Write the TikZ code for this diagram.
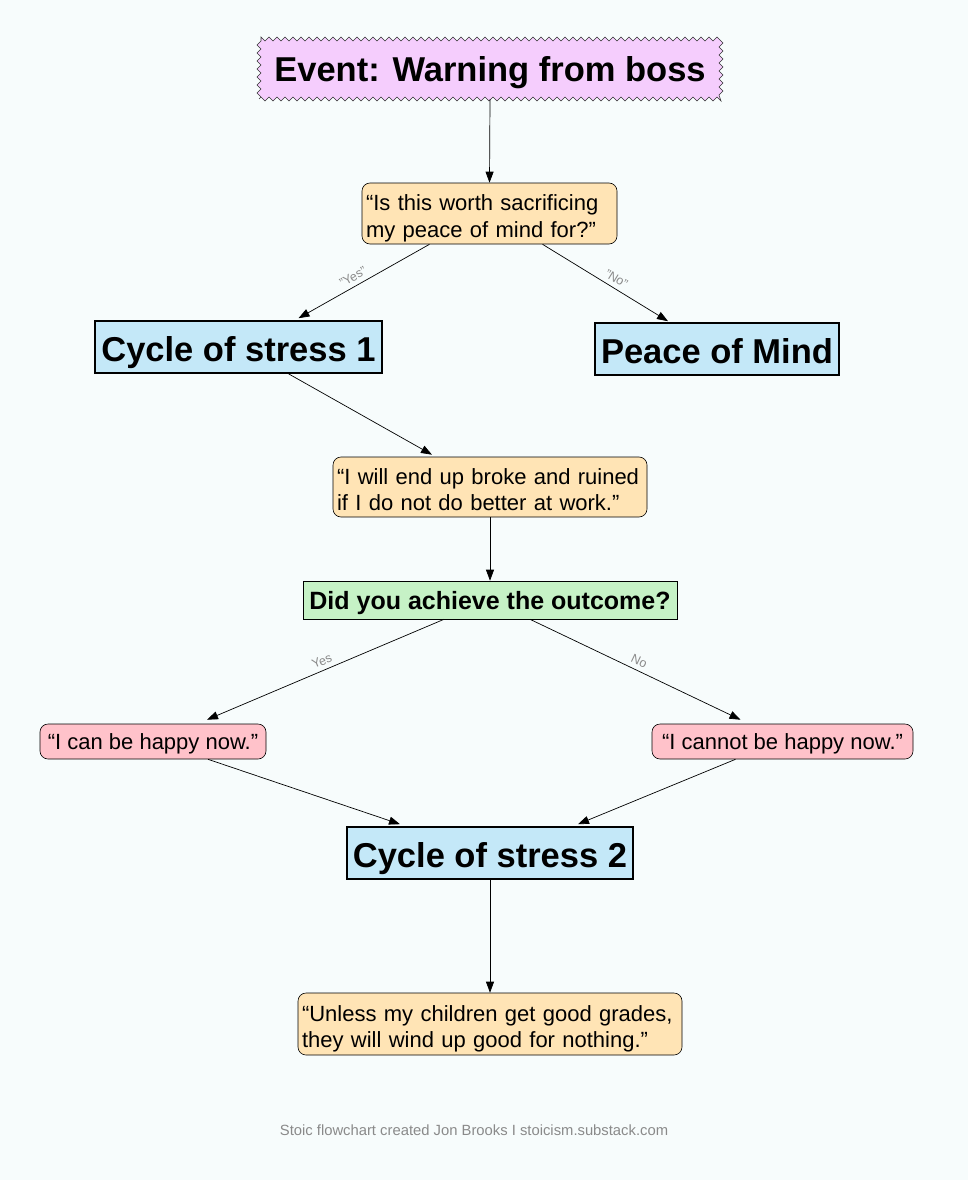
\documentclass[tikz,border=0pt]{standalone}
\usepackage{fontspec}
\setmainfont{Liberation Sans}
\usetikzlibrary{arrows.meta,calc,decorations.pathmorphing}
\definecolor{bgc}{HTML}{F7FCFC}
\definecolor{evfill}{HTML}{F5CDFD}
\definecolor{qfill}{HTML}{FFE4B5}
\definecolor{bluefill}{HTML}{C4E8F8}
\definecolor{greenfill}{HTML}{C6F2C6}
\definecolor{pinkfill}{HTML}{FFC2CA}
\definecolor{lblgray}{HTML}{8A8A8A}
\begin{document}
\begin{tikzpicture}[x=1pt,y=-1pt,
  bigtitle/.style={font=\fontsize{34.5}{38}\selectfont\bfseries},
  cyclebox/.style={draw=black, line width=1.6pt, fill=bluefill, bigtitle, inner sep=0pt, minimum height=52pt, text height=29pt, text depth=0pt},
  quotebox/.style={draw=black, line width=0.6pt, rounded corners=8pt, fill=qfill, font=\fontsize{22}{26.5}\selectfont, align=left, inner xsep=4pt, inner ysep=0pt, text height=11pt, text depth=17pt},
  pinkbox/.style={draw=black, line width=0.6pt, rounded corners=8pt, fill=pinkfill, font=\fontsize{22}{26.5}\selectfont, inner xsep=3pt, inner ysep=0pt, minimum height=35pt, text height=16pt, text depth=0pt},
  conn/.style={draw=black, line width=0.7pt, -{Triangle[length=11pt,width=8pt]}},
  lbl/.style={font=\fontsize{12.5}{15}\selectfont, text=lblgray, sloped, above, inner sep=4.5pt}
]
\useasboundingbox (0,0) rectangle (968,1180);
\fill[bgc] (0,0) rectangle (968,1180);

\node[fill=evfill, draw=black!80, line width=0.6pt, decorate,
      decoration={zigzag, segment length=8pt, amplitude=2pt},
      bigtitle, minimum width=462pt, minimum height=60pt, inner sep=0pt, text height=26pt, text depth=0pt]
  (ev) at (490,69) {Event: Warning from boss};

\node[quotebox, text width=247pt, minimum height=61pt] (q1) at (489.5,213.5)
  {\mbox{“Is this worth sacrificing}\\\mbox{my peace of mind for?”}};

\node[cyclebox, minimum width=287pt] (cs1) at (238.5,347) {Cycle of stress 1};
\node[cyclebox, minimum width=244pt] (pom) at (717,349) {Peace of Mind};

\node[quotebox, text width=306pt, minimum height=60pt] (q2) at (490,487)
  {\mbox{“I will end up broke and ruined}\\\mbox{if I do not do better at work.”}};

\node[draw=black, line width=0.6pt, fill=greenfill, font=\fontsize{25}{28}\selectfont\bfseries,
      minimum width=374pt, minimum height=38pt, inner sep=0pt, text height=18pt, text depth=0pt] (out) at (490,600)
  {Did you achieve the outcome?};

\node[pinkbox, minimum width=226pt] (hap) at (153,741.5) {“I can be happy now.”};
\node[pinkbox, minimum width=261pt] (nhap) at (782.5,741.5) {“I cannot be happy now.”};

\node[cyclebox, minimum width=286pt] (cs2) at (490,853) {Cycle of stress 2};

\node[quotebox, text width=376pt, minimum height=62pt] (q3) at (490,1024)
  {\mbox{“Unless my children get good grades,}\\\mbox{they will wind up good for nothing.”}};

\node[font=\fontsize{14.8}{17}\selectfont, text=lblgray] (foot) at (474,1130)
  {Stoic flowchart created Jon Brooks I stoicism.substack.com};

\draw[conn] (ev.south) -- (q1.north);
\draw[conn] ($(q1.south)+(-60,0)$) -- node[lbl, pos=0.55] {"Yes"} ($(cs1.north)+(60,-2)$);
\draw[conn] ($(q1.south)+(53,0)$) -- node[lbl, pos=0.55] {"No"} ($(pom.north)+(-49,-1)$);
\draw[conn] ($(cs1.south)+(50,0)$) -- ($(q2.north)+(-58,-2)$);
\draw[conn] (q2.south) -- (out.north);
\draw[conn] ($(out.south)+(-46,0)$) -- node[lbl, pos=0.5] {Yes} ($(hap.north)+(54,-4)$);
\draw[conn] ($(out.south)+(40,0)$) -- node[lbl, pos=0.5] {No} ($(nhap.north)+(-42,-4)$);
\draw[conn] ($(hap.south)+(55,0)$) -- ($(cs2.north)+(-90,-2)$);
\draw[conn] ($(nhap.south)+(-47,0)$) -- ($(cs2.north)+(88,-2)$);
\draw[conn] (cs2.south) -- (q3.north);
\end{tikzpicture}
\end{document}
